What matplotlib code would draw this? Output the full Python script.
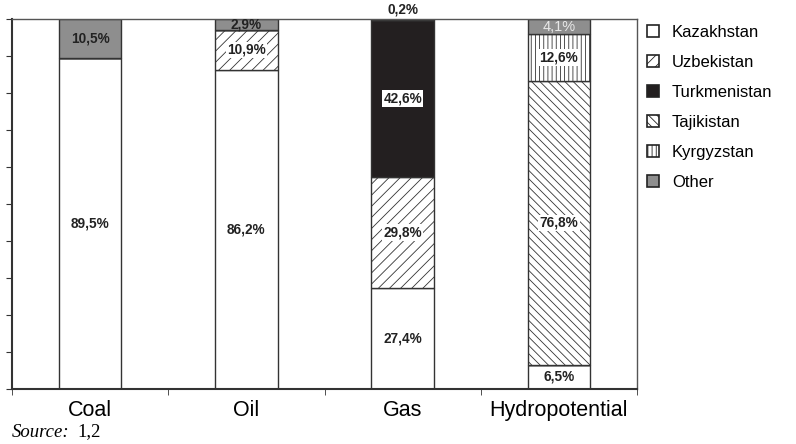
import numpy as np
import matplotlib.pyplot as plt
from matplotlib.patches import Patch

plt.rcParams['font.family'] = ['Liberation Sans', 'DejaVu Sans']
plt.rcParams['hatch.linewidth'] = 0.6

# Data (shares, %)
categories = ["Coal", "Oil", "Gas", "Hydropotential"]
countries = ["Kazakhstan", "Uzbekistan", "Turkmenistan", "Tajikistan", "Kyrgyzstan", "Other"]
kazakhstan   = [89.5, 86.2, 27.4, 6.5]
uzbekistan   = [0.0, 10.9, 29.8, 0.0]
turkmenistan = [0.0, 0.0, 42.6, 0.0]
tajikistan   = [0.0, 0.0, 0.0, 76.8]
kyrgyzstan   = [0.0, 0.0, 0.0, 12.6]
other        = [10.5, 2.9, 0.2, 4.1]

series = [kazakhstan, uzbekistan, turkmenistan, tajikistan, kyrgyzstan, other]
faces = ["white", "white", "#231f20", "white", "white", "#8e8e8e"]
hatches = [None, "///", None, "\\\\\\\\", "||||", None]
edge = "#333333"

fig = plt.figure(figsize=(7.96, 4.44), dpi=100)
ax = fig.add_axes([12/796, 55/444, 625/796, 370/444])

x = np.arange(len(categories))
bottom = np.zeros(len(categories))
for vals, fc, h in zip(series, faces, hatches):
    v = np.array(vals)
    ax.bar(x, v/100, 0.4, bottom=bottom/100, color=fc, edgecolor=edge,
           linewidth=1.0, hatch=h)
    bottom += v

def lab(i, y, s, box=False, color="#222222"):
    kw = dict(ha="center", va="center", fontsize=9.8, fontweight="bold", color=color)
    if box:
        kw["bbox"] = dict(facecolor="white", edgecolor="none", pad=1.0)
    ax.text(x[i], y/100, s, **kw)

# Coal
lab(0, 89.5/2, "89,5%")
lab(0, 89.5 + 10.5/2, "10,5%")
# Oil
lab(1, 86.2/2, "86,2%")
lab(1, 86.2 + 10.9/2, "10,9%", box=True)
lab(1, 86.2 + 10.9 + 2.9/2, "2,9%")
# Gas
lab(2, 27.4/2, "27,4%")
lab(2, 27.4 + 29.8/2, "29,8%", box=True)
lab(2, 27.4 + 29.8 + 42.6/2, "42,6%", box=True)
ax.text(x[2], 1.008, "0,2%", ha="center", va="bottom", fontsize=9.8,
        fontweight="bold", color="#222222")
# Hydropotential
lab(3, 6.5/2, "6,5%")
lab(3, 6.5 + 76.8/2, "76,8%", box=True)
lab(3, 6.5 + 76.8 + 12.6/2, "12,6%", box=True)
ax.text(x[3], (100 - 4.1/2)/100, "4,1%", ha="center", va="center",
        fontsize=10.5, color="#e8e8e8")

ax.set_xlim(-0.5, 3.5)
ax.set_ylim(0, 1)
ax.set_yticks(np.arange(0, 1.01, 0.1))
ax.set_yticklabels([])
ax.set_xticks(x)
ax.set_xticklabels(categories, fontsize=15.5)
ax.set_xticks(np.arange(-0.5, 3.6, 1), minor=True)
ax.tick_params(axis="x", which="major", length=0, pad=8)
ax.tick_params(axis="x", which="minor", length=4, color="#333333")
ax.tick_params(axis="y", length=4, color="#333333")
for sp in ["left", "bottom"]:
    ax.spines[sp].set_linewidth(1.5)
    ax.spines[sp].set_color("#333333")
for sp in ["top", "right"]:
    ax.spines[sp].set_linewidth(1.0)
    ax.spines[sp].set_color("#555555")

handles = [Patch(facecolor=fc, edgecolor="#222222", hatch=h, linewidth=1.2)
           for fc, h in zip(faces, hatches)]
fig.legend(handles, countries, loc="upper left", bbox_to_anchor=(632/796, 1 - 10/444),
           frameon=False, fontsize=12, handlelength=0.7, handleheight=0.7,
           labelspacing=0.9, handletextpad=0.8)

fig.text(12/796, 1 - 432/444, "Source:", fontsize=13.5, family="Liberation Serif",
         style="italic", va="center")
fig.text(77/796, 1 - 432/444, "1,2", fontsize=13.5, family="Liberation Serif", va="center")

fig.savefig("out.png", dpi=100)
